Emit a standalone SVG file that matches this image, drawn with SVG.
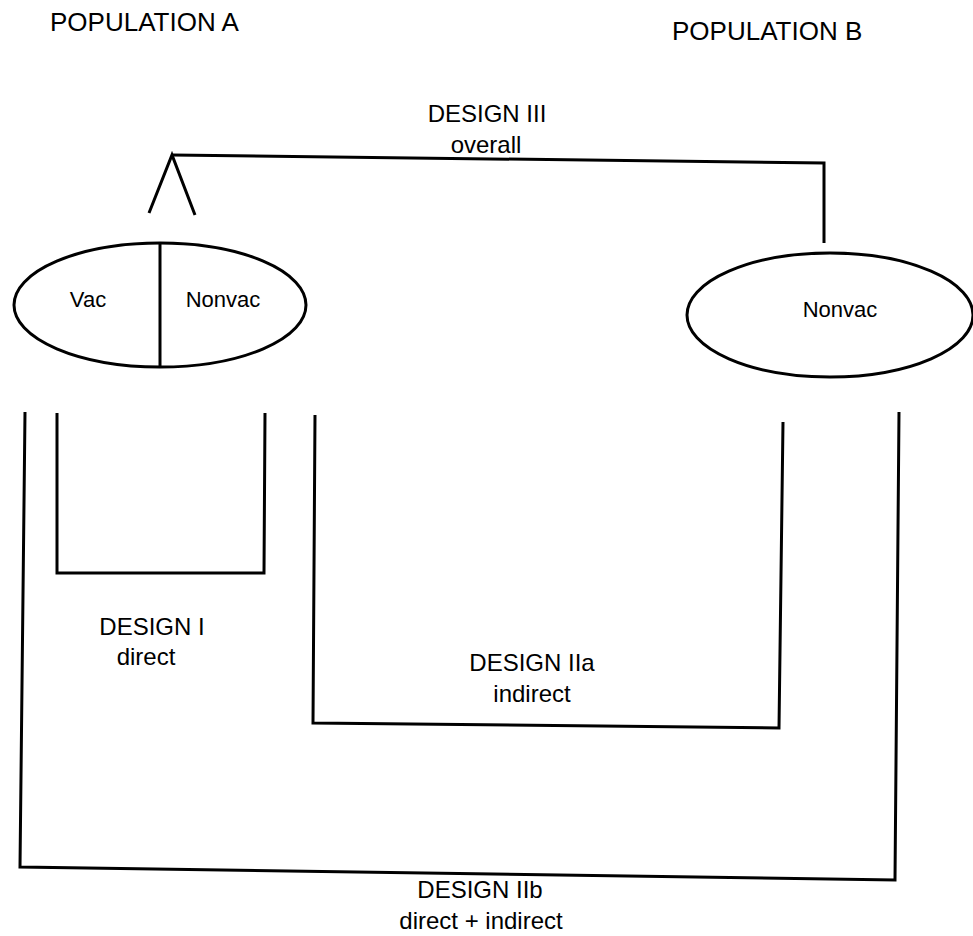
<svg xmlns="http://www.w3.org/2000/svg" width="973" height="936" viewBox="0 0 973 936">
<style>
  .ln { fill: none; stroke: #000; stroke-width: 3; stroke-linejoin: miter; }
  .t { font-family: "Liberation Sans", Arial, Helvetica, sans-serif; fill: #000; }
  .hd { font-size: 26px; }
  .dz { font-size: 24px; text-anchor: middle; }
  .nd { font-size: 22px; text-anchor: middle; }
</style>
<rect x="0" y="0" width="973" height="936" fill="#fff"/>

<g id="title-population-a">
  <text class="t hd" x="50" y="31">POPULATION A</text>
</g>
<g id="title-population-b">
  <text class="t hd" x="672" y="40">POPULATION B</text>
</g>

<g id="node-population-a">
  <ellipse class="ln" cx="160" cy="305" rx="146" ry="62"/>
  <line class="ln" x1="160" y1="243" x2="160" y2="368"/>
  <text class="t nd" x="88" y="307">Vac</text>
  <text class="t nd" x="223" y="307">Nonvac</text>
</g>

<g id="node-population-b">
  <ellipse class="ln" cx="830" cy="315" rx="143" ry="62"/>
  <text class="t nd" x="840" y="317">Nonvac</text>
</g>

<g id="connectors">
  <!-- Design III -->
  <polyline class="ln" points="149,213 172,155 195,215"/>
  <polyline class="ln" points="172,155 824,163 824,243"/>
  <!-- Design I -->
  <polyline class="ln" points="57,413 57,573 264,573 265,413"/>
  <!-- Design IIa -->
  <polyline class="ln" points="315,415 313,723 779,728 783,422"/>
  <!-- Design IIb -->
  <polyline class="ln" points="25,412 20,867 895,880 899,412"/>
</g>

<g id="labels">
  <text class="t dz" x="487" y="122">DESIGN III</text>
  <text class="t dz" x="486" y="153">overall</text>
  <text class="t dz" x="152" y="635">DESIGN I</text>
  <text class="t dz" x="146" y="665">direct</text>
  <text class="t dz" x="532" y="671">DESIGN IIa</text>
  <text class="t dz" x="532" y="702">indirect</text>
  <text class="t dz" x="480" y="898">DESIGN IIb</text>
  <text class="t dz" x="481" y="929">direct + indirect</text>
</g>
</svg>
